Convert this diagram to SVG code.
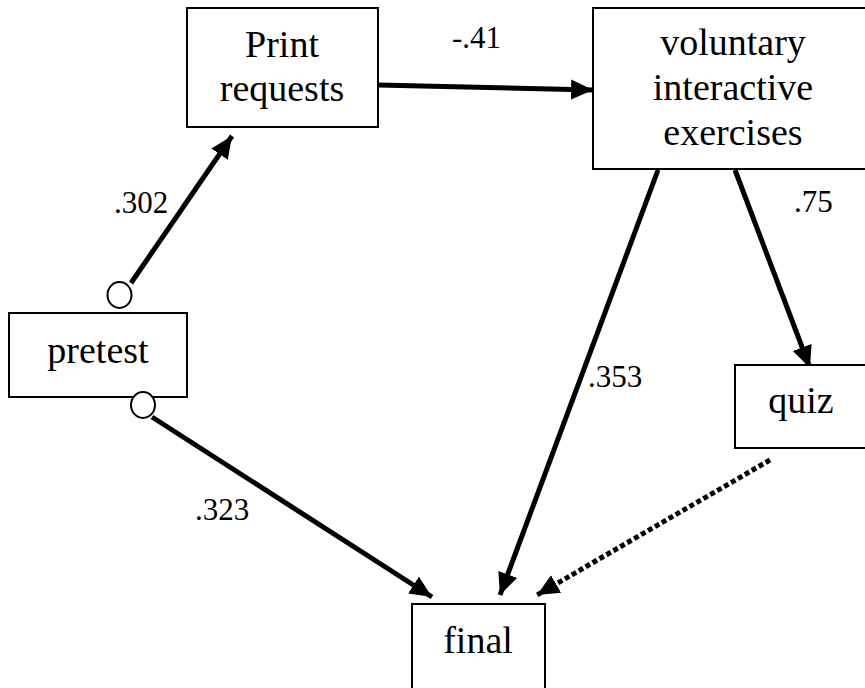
<svg xmlns="http://www.w3.org/2000/svg" width="865" height="688" viewBox="0 0 865 688">
  <defs>
    <!-- shared arrowhead for every path -->
    <marker id="head" markerUnits="userSpaceOnUse" markerWidth="24" markerHeight="22" refX="22" refY="10" orient="auto">
      <path d="M0,0 L22,10 L0,20 Z" fill="#000"/>
    </marker>
  </defs>
  <rect width="865" height="688" fill="#fff"/>

  <g id="connectors" stroke="#000" stroke-width="5" fill="none">
    <line x1="131" y1="283" x2="232" y2="136" marker-end="url(#head)"/>
    <line x1="378" y1="85" x2="593" y2="90" marker-end="url(#head)"/>
    <line x1="152" y1="417" x2="432" y2="597" marker-end="url(#head)"/>
    <line x1="658" y1="170" x2="500" y2="595" marker-end="url(#head)"/>
    <line x1="735" y1="170" x2="810" y2="368" marker-end="url(#head)"/>
    <line x1="770" y1="460" x2="537" y2="595" stroke-dasharray="5 3" marker-end="url(#head)"/>
  </g>

  <text x="114" y="213" font-size="31" font-family="Liberation Serif">.302</text>
  <text x="452" y="48" font-size="31" font-family="Liberation Serif">-.41</text>
  <text x="794" y="212" font-size="31" font-family="Liberation Serif">.75</text>
  <text x="588" y="387" font-size="31" font-family="Liberation Serif">.353</text>
  <text x="195" y="520" font-size="31" font-family="Liberation Serif">.323</text>

  <g id="print-requests">
    <rect x="187" y="8" width="191" height="119" fill="#fff" stroke="#000" stroke-width="2"/>
    <text x="282" y="57" font-size="38" font-family="Liberation Serif" text-anchor="middle">Print</text>
    <text x="282" y="101" font-size="38" font-family="Liberation Serif" text-anchor="middle">requests</text>
  </g>

  <g id="voluntary-exercises">
    <rect x="593" y="8" width="280" height="161" fill="#fff" stroke="#000" stroke-width="2"/>
    <text x="733" y="55" font-size="38" font-family="Liberation Serif" text-anchor="middle">voluntary</text>
    <text x="733" y="100" font-size="38" font-family="Liberation Serif" text-anchor="middle">interactive</text>
    <text x="733" y="145" font-size="38" font-family="Liberation Serif" text-anchor="middle">exercises</text>
  </g>

  <g id="pretest">
    <rect x="9" y="313" width="178" height="84" fill="#fff" stroke="#000" stroke-width="2"/>
    <text x="98" y="363" font-size="38" font-family="Liberation Serif" text-anchor="middle">pretest</text>
    <ellipse cx="119.5" cy="295" rx="12" ry="13" fill="#fff" stroke="#000" stroke-width="2"/>
    <ellipse cx="143" cy="405" rx="12" ry="13" fill="#fff" stroke="#000" stroke-width="2"/>
  </g>

  <g id="quiz">
    <rect x="735" y="365" width="140" height="83" fill="#fff" stroke="#000" stroke-width="2"/>
    <text x="801" y="413" font-size="38" font-family="Liberation Serif" text-anchor="middle">quiz</text>
  </g>

  <g id="final">
    <rect x="412" y="604" width="133" height="90" fill="#fff" stroke="#000" stroke-width="2"/>
    <text x="478" y="653" font-size="38" font-family="Liberation Serif" text-anchor="middle">final</text>
  </g>
</svg>
